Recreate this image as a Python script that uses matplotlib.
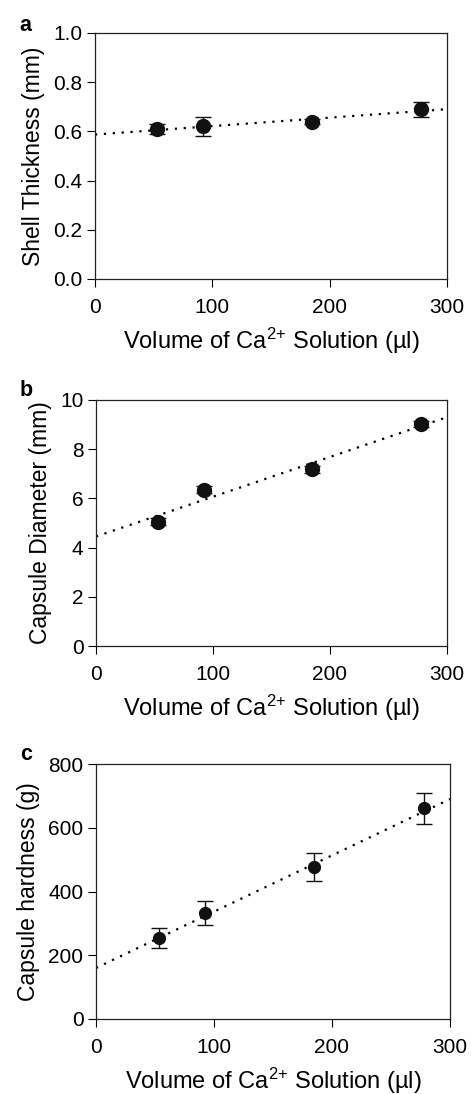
import matplotlib
matplotlib.use("Agg")
import matplotlib.pyplot as plt

plt.rcParams['font.family'] = ['Liberation Sans', 'DejaVu Sans']
plt.rcParams['mathtext.default'] = 'regular'

# volumes of Ca2+ solution (ul)
volume = [53, 92, 185, 278]

# panel a: shell thickness (mm)
thickness = [0.61, 0.62, 0.64, 0.69]
thickness_err = [0.02, 0.04, 0.01, 0.03]
thickness_fit = [0.587, 0.69]

# panel b: capsule diameter (mm)
diameter = [5.05, 6.35, 7.18, 9.02]
diameter_err = [0.15, 0.15, 0.15, 0.12]
diameter_fit = [4.45, 9.3]

# panel c: capsule hardness (g)
hardness = [254, 333, 477, 661]
hardness_err = [31, 37, 44, 48]
hardness_fit = [160, 690]

fit_x = [0, 300]

panels = [
    ('a', thickness, thickness_err, thickness_fit, 'Shell Thickness (mm)',
     (0, 1.0), [0.0, 0.2, 0.4, 0.6, 0.8, 1.0], '%.1f', 10),
    ('b', diameter, diameter_err, diameter_fit, 'Capsule Diameter (mm)',
     (0, 10), [0, 2, 4, 6, 8, 10], '%d', 10),
    ('c', hardness, hardness_err, hardness_fit, 'Capsule hardness (g)',
     (0, 800), [0, 200, 400, 600, 800], '%d', 8.5),
]

boxes = [
    [0.2017, 0.745, 0.747, 0.2249],
    [0.2038, 0.4095, 0.745, 0.2249],
    [0.2038, 0.0686, 0.7516, 0.2330],
]
letter_y = [0.977, 0.643, 0.310]

fig = plt.figure(figsize=(4.71, 10.94), dpi=100)

for (letter, y, yerr, fit, ylabel, ylim, yticks, fmt, ms), box, ly in zip(panels, boxes, letter_y):
    ax = fig.add_axes(box)
    ax.plot(fit_x, fit, color='black', linestyle=(0, (1, 3)), lw=1.6, zorder=2)
    ax.errorbar(volume, y, yerr=yerr, fmt='o', color='#111111', ms=ms,
                elinewidth=1.0, capsize=6, capthick=1.0, zorder=3)
    ax.set_xlim(0, 300)
    ax.set_ylim(*ylim)
    ax.set_xticks([0, 100, 200, 300])
    ax.set_yticks(yticks)
    ax.set_yticklabels([fmt % v for v in yticks])
    ax.tick_params(direction='out', length=6, width=0.8, labelsize=15, pad=3)
    ax.tick_params(axis='x', pad=8)
    for s in ax.spines.values():
        s.set_linewidth(0.9)
        s.set_color('#222222')
    ax.set_xlabel('Volume of Ca$^{2{+}}$ Solution (\u00b5l)', fontsize=17, labelpad=6)
    ax.set_ylabel(ylabel, fontsize=16.5, labelpad=6)
    fig.text(0.042, ly, letter, fontsize=15.5, fontweight='bold', ha='left', va='center')

fig.savefig('out.png', dpi=100)
